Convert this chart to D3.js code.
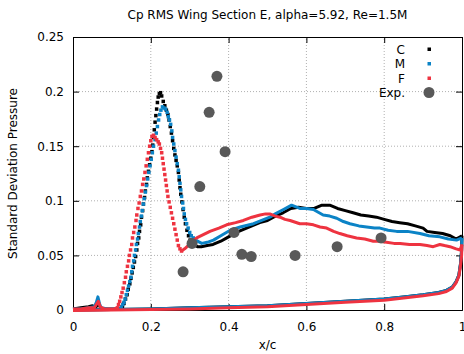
<!DOCTYPE html>
<html>
<head>
  <script src="https://cdn.jsdelivr.net/npm/d3@7"></script>
  <style>
  body { margin: 0; background: #fff; }
  text { font-family: "DejaVu Sans", sans-serif; font-size: 12px; fill: #000; }
  </style>
</head>
<body>
  <script>
  var w = 464;
  var h = 354;

  //Plot box in pixels
  var margin = {left: 73, right: 2, top: 37, bottom: 44};

  var xTicks = [0, 0.2, 0.4, 0.6, 0.8, 1];
  var xTickLabels = ["0", "0.2", "0.4", "0.6", "0.8", "1"];
  var yTicks = [0, 0.05, 0.1, 0.15, 0.2, 0.25];
  var yTickLabels = ["0", "0.05", "0.1", "0.15", "0.2", "0.25"];

  //Series names and colours
  var seriesNames = ["C", "M", "F"];
  var seriesColors = ["#000000", "#0b83c6", "#ee3340"];

  //C : leading edge, peak (drawn as dots), aft upper, lower surface
  var cLead = [[0,0.001],[0.02,0.002],[0.04,0.003],[0.05,0.004],[0.058,0.002],[0.065,0.006],[0.072,0.001],[0.09,0.001],[0.11,0.001],[0.122,0.001]];
  var cPeak = [[0.122,0.001],[0.127,0.003],[0.131,0.006],[0.135,0.010],[0.139,0.014],[0.142,0.019],[0.146,0.024],[0.149,0.029],[0.152,0.034],[0.155,0.039],[0.158,0.044],[0.161,0.049],[0.164,0.055],[0.166,0.061],[0.169,0.066],[0.171,0.072],[0.174,0.078],[0.176,0.085],[0.179,0.091],[0.181,0.097],[0.184,0.103],[0.186,0.109],[0.189,0.115],[0.191,0.121],[0.194,0.127],[0.197,0.133],[0.200,0.139],[0.203,0.145],[0.205,0.151],[0.207,0.158],[0.209,0.165],[0.211,0.172],[0.213,0.178],[0.215,0.184],[0.217,0.190],[0.219,0.195],[0.222,0.198],[0.225,0.199],[0.228,0.196],[0.232,0.191],[0.236,0.187],[0.240,0.183],[0.244,0.179],[0.247,0.174],[0.250,0.168],[0.253,0.162],[0.256,0.155],[0.259,0.148],[0.262,0.142],[0.265,0.137],[0.268,0.132],[0.271,0.126],[0.273,0.119],[0.275,0.112],[0.277,0.106],[0.280,0.099],[0.283,0.092],[0.286,0.085],[0.289,0.079],[0.293,0.073],[0.297,0.068],[0.301,0.064]];
  var cAft = [[0.301,0.064],[0.31,0.060],[0.32,0.058],[0.33,0.058],[0.345,0.059],[0.36,0.060],[0.38,0.063],[0.40,0.067],[0.42,0.071],[0.44,0.074],[0.46,0.077],[0.48,0.080],[0.50,0.082],[0.52,0.086],[0.54,0.089],[0.56,0.093],[0.58,0.094],[0.60,0.093],[0.62,0.093],[0.64,0.096],[0.66,0.096],[0.68,0.093],[0.70,0.091],[0.72,0.089],[0.74,0.087],[0.76,0.086],[0.78,0.085],[0.80,0.083],[0.82,0.081],[0.84,0.080],[0.86,0.079],[0.88,0.077],[0.90,0.075],[0.91,0.072],[0.93,0.071],[0.95,0.070],[0.97,0.068],[0.985,0.065],[1.0,0.068]];
  var cLower = [[0,0.0],[0.1,0.0005],[0.2,0.001],[0.3,0.002],[0.4,0.003],[0.5,0.004],[0.6,0.006],[0.7,0.008],[0.8,0.010],[0.85,0.012],[0.9,0.014],[0.94,0.016],[0.96,0.018],[0.975,0.021],[0.985,0.026],[0.992,0.032],[0.996,0.042],[0.999,0.055],[1.0,0.068]];

  //M
  var mLead = [[0,0.001],[0.02,0.001],[0.04,0.002],[0.055,0.003],[0.06,0.007],[0.064,0.012],[0.068,0.006],[0.072,0.002],[0.09,0.001],[0.11,0.001],[0.12,0.001]];
  var mPeak = [[0.120,0.001],[0.124,0.003],[0.128,0.005],[0.131,0.007],[0.134,0.010],[0.137,0.014],[0.140,0.018],[0.143,0.022],[0.146,0.026],[0.149,0.030],[0.151,0.035],[0.153,0.040],[0.156,0.045],[0.158,0.050],[0.161,0.055],[0.163,0.060],[0.166,0.065],[0.168,0.070],[0.171,0.076],[0.173,0.081],[0.176,0.086],[0.178,0.091],[0.181,0.097],[0.183,0.102],[0.186,0.108],[0.189,0.114],[0.192,0.120],[0.195,0.126],[0.198,0.132],[0.201,0.138],[0.204,0.144],[0.207,0.150],[0.211,0.156],[0.214,0.162],[0.217,0.168],[0.220,0.174],[0.223,0.179],[0.226,0.183],[0.230,0.186],[0.234,0.185],[0.238,0.184],[0.242,0.181],[0.245,0.177],[0.248,0.174],[0.251,0.170],[0.254,0.164],[0.256,0.158],[0.259,0.152],[0.262,0.146],[0.265,0.140],[0.268,0.134],[0.271,0.128],[0.273,0.122],[0.275,0.116],[0.277,0.110],[0.279,0.104],[0.282,0.098],[0.284,0.093],[0.286,0.088],[0.289,0.083],[0.292,0.079],[0.296,0.075],[0.300,0.071],[0.304,0.068],[0.309,0.066]];
  var mAft = [[0.309,0.066],[0.32,0.063],[0.331,0.061],[0.345,0.062],[0.361,0.064],[0.38,0.068],[0.404,0.073],[0.43,0.076],[0.464,0.079],[0.485,0.082],[0.506,0.085],[0.52,0.088],[0.541,0.092],[0.562,0.096],[0.583,0.093],[0.60,0.093],[0.618,0.092],[0.643,0.087],[0.66,0.086],[0.678,0.084],[0.695,0.081],[0.712,0.079],[0.735,0.077],[0.755,0.076],[0.775,0.075],[0.789,0.075],[0.81,0.073],[0.832,0.072],[0.86,0.072],[0.892,0.070],[0.915,0.068],[0.943,0.067],[0.965,0.065],[0.986,0.064],[1.0,0.066]];
  var mLower = [[0,0.0],[0.1,0.0005],[0.2,0.001],[0.3,0.002],[0.4,0.003],[0.5,0.004],[0.6,0.006],[0.7,0.008],[0.8,0.010],[0.85,0.012],[0.9,0.014],[0.94,0.016],[0.96,0.018],[0.975,0.021],[0.985,0.026],[0.992,0.032],[0.996,0.042],[0.999,0.054],[1.0,0.066]];

  //F
  var fLead = [[0,0.001],[0.02,0.001],[0.04,0.002],[0.055,0.002],[0.06,0.005],[0.065,0.008],[0.07,0.003],[0.08,0.001],[0.1,0.001],[0.11,0.001]];
  var fPeak = [[0.110,0.001],[0.114,0.002],[0.117,0.005],[0.120,0.008],[0.123,0.012],[0.126,0.016],[0.129,0.020],[0.132,0.025],[0.135,0.030],[0.137,0.035],[0.140,0.040],[0.143,0.045],[0.145,0.050],[0.148,0.055],[0.151,0.060],[0.153,0.066],[0.156,0.071],[0.159,0.076],[0.162,0.082],[0.164,0.087],[0.167,0.093],[0.170,0.098],[0.173,0.104],[0.176,0.109],[0.179,0.115],[0.182,0.120],[0.185,0.126],[0.188,0.132],[0.191,0.138],[0.194,0.144],[0.197,0.150],[0.200,0.155],[0.203,0.159],[0.207,0.160],[0.211,0.158],[0.215,0.156],[0.219,0.154],[0.222,0.152],[0.225,0.148],[0.228,0.144],[0.230,0.139],[0.232,0.134],[0.234,0.129],[0.236,0.124],[0.238,0.119],[0.240,0.114],[0.242,0.109],[0.244,0.104],[0.247,0.099],[0.250,0.094],[0.253,0.089],[0.256,0.084],[0.259,0.079],[0.262,0.074],[0.265,0.069],[0.268,0.064],[0.271,0.059],[0.275,0.056],[0.279,0.054]];
  var fAft = [[0.279,0.054],[0.287,0.056],[0.296,0.059],[0.307,0.063],[0.318,0.066],[0.335,0.069],[0.352,0.072],[0.375,0.075],[0.395,0.078],[0.418,0.080],[0.438,0.082],[0.46,0.085],[0.481,0.087],[0.495,0.088],[0.506,0.088],[0.52,0.086],[0.532,0.085],[0.545,0.083],[0.558,0.082],[0.583,0.079],[0.60,0.079],[0.618,0.078],[0.635,0.076],[0.652,0.075],[0.67,0.072],[0.686,0.070],[0.705,0.068],[0.729,0.066],[0.75,0.065],[0.772,0.063],[0.789,0.063],[0.806,0.062],[0.825,0.061],[0.841,0.061],[0.865,0.060],[0.892,0.060],[0.91,0.059],[0.926,0.058],[0.943,0.060],[0.955,0.059],[0.969,0.058],[0.985,0.056],[0.995,0.055],[1.0,0.060]];
  var fLower = [[0,-0.0005],[0.1,0.0],[0.2,0.0005],[0.3,0.001],[0.4,0.002],[0.5,0.003],[0.6,0.005],[0.7,0.007],[0.8,0.009],[0.85,0.011],[0.9,0.013],[0.94,0.015],[0.96,0.017],[0.975,0.020],[0.985,0.025],[0.992,0.031],[0.996,0.040],[0.999,0.050],[1.0,0.060]];

  //Experimental points
  var expX = [0.370, 0.350, 0.391, 0.326, 0.306, 0.283, 0.414, 0.434, 0.458, 0.571, 0.679, 0.792];
  var expY = [0.214, 0.181, 0.145, 0.113, 0.061, 0.035, 0.071, 0.051, 0.049, 0.050, 0.058, 0.066];

  var series = [
    {lead: cLead, peak: cPeak, aft: cAft, lower: cLower},
    {lead: mLead, peak: mPeak, aft: mAft, lower: mLower},
    {lead: fLead, peak: fPeak, aft: fAft, lower: fLower}
  ];

  var x = d3.scaleLinear().domain([0, 1]).range([margin.left, w - margin.right]);
  var y = d3.scaleLinear().domain([0, 0.25]).range([h - margin.bottom, margin.top]);

  var svg = d3.select("body").append("svg")
    .attr("width", w)
    .attr("height", h);

  //Dotted grid
  var grid = svg.append("g").attr("stroke", "#b0b0b0").attr("stroke-dasharray", "1,2");
  grid.selectAll(".gx").data(xTicks.slice(1, -1)).enter().append("line")
    .attr("x1", function(d){ return x(d); }).attr("x2", function(d){ return x(d); })
    .attr("y1", y(0)).attr("y2", y(0.25));
  grid.selectAll(".gy").data(yTicks.slice(1, -1)).enter().append("line")
    .attr("x1", x(0)).attr("x2", x(1))
    .attr("y1", function(d){ return y(d); }).attr("y2", function(d){ return y(d); });

  //Axes with inward ticks on all four sides
  svg.append("g").attr("transform", "translate(0," + y(0) + ")")
    .call(d3.axisBottom(x).tickValues(xTicks).tickSize(-6).tickPadding(12)
      .tickFormat(function(d, i){ return xTickLabels[i]; }));
  svg.append("g").attr("transform", "translate(0," + y(0.25) + ")")
    .call(d3.axisTop(x).tickValues(xTicks).tickSize(-6).tickFormat(""));
  svg.append("g").attr("transform", "translate(" + x(0) + ",0)")
    .call(d3.axisLeft(y).tickValues(yTicks).tickSize(-6).tickPadding(9)
      .tickFormat(function(d, i){ return yTickLabels[i]; }));
  svg.append("g").attr("transform", "translate(" + x(1) + ",0)")
    .call(d3.axisRight(y).tickValues(yTicks).tickSize(-6).tickFormat(""));
  svg.selectAll(".domain").attr("stroke", "#000");
  svg.selectAll(".tick text").style("font-size", "12px").style("font-family", "DejaVu Sans, sans-serif");

  var line = d3.line()
    .x(function(d){ return x(d[0]); })
    .y(function(d){ return y(d[1]); });

  var plot = svg.append("g");

  //Draw each series: thin point runs as lines, sparse peak as square dots
  series.forEach(function(s, i){
    var col = seriesColors[i];
    [s.lead, s.aft, s.lower].forEach(function(part){
      plot.append("path")
        .attr("d", line(part))
        .attr("fill", "none")
        .attr("stroke", col)
        .attr("stroke-width", 3)
        .attr("stroke-linejoin", "round");
    });
    plot.selectAll(".dot" + i).data(s.peak).enter().append("rect")
      .attr("x", function(d){ return x(d[0]) - 1.75; })
      .attr("y", function(d){ return y(d[1]) - 1.75; })
      .attr("width", 3.5)
      .attr("height", 3.5)
      .attr("fill", col);
  });

  //Experimental data
  plot.selectAll(".exp").data(expX).enter().append("circle")
    .attr("cx", function(d){ return x(d); })
    .attr("cy", function(d, i){ return y(expY[i]); })
    .attr("r", 5.5)
    .attr("fill", "#595959");

  //Legend
  var legendNames = seriesNames.concat(["Exp."]);
  var lg = svg.append("g");
  legendNames.forEach(function(n, i){
    var ly = 49 + i * 14.5;
    lg.append("text")
      .attr("x", 405).attr("y", ly + 4.5)
      .attr("text-anchor", "end")
      .text(n);
    if(i < 3){
      lg.append("rect")
        .attr("x", 427.5).attr("y", ly - 1.5)
        .attr("width", 3.5).attr("height", 3.5)
        .attr("fill", seriesColors[i]);
    } else {
      lg.append("circle")
        .attr("cx", 429).attr("cy", ly)
        .attr("r", 5.5)
        .attr("fill", "#595959");
    }
  });

  //Title and axis labels
  svg.append("text")
    .attr("x", (x(0) + x(1)) / 2).attr("y", 19)
    .attr("text-anchor", "middle")
    .text("Cp RMS Wing Section E, alpha=5.92, Re=1.5M");
  svg.append("text")
    .attr("x", (x(0) + x(1)) / 2).attr("y", 349)
    .attr("text-anchor", "middle")
    .text("x/c");
  svg.append("text")
    .attr("transform", "translate(17," + (y(0.125)) + ")rotate(-90)")
    .attr("text-anchor", "middle")
    .text("Standard Deviation Pressure");
  </script>
</body>
</html>
